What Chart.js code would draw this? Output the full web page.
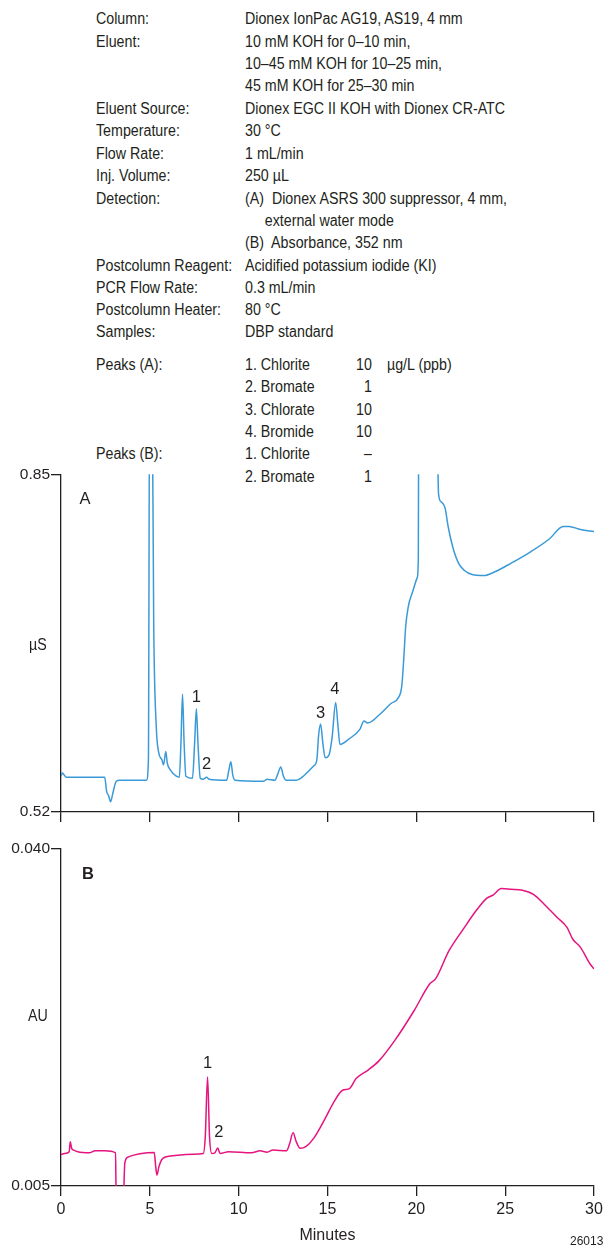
<!DOCTYPE html>
<html>
<head>
<meta charset="utf-8">
<script src="https://cdn.jsdelivr.net/npm/chart.js@4.4.0/dist/chart.umd.min.js"></script>
<style>
  body { margin: 0; background: #fff; width: 607px; height: 1245px; position: relative; overflow: hidden;
         font-family: "Liberation Sans", Arial, sans-serif; color: #231f20; }
  .t { position: absolute; font-size: 16px; line-height: 22px; white-space: nowrap;
       transform: scaleX(0.89); transform-origin: left center; }
  .r { transform-origin: right center; }
  canvas { position: absolute; left: 0; }
</style>
</head>
<body>
<div id="info"></div>
<canvas id="chartA" width="607" height="360" style="top:464px"></canvas>
<canvas id="chartB" width="607" height="407" style="top:838px"></canvas>
<div class="t" style="left:29px;top:634px">µS</div>
<div class="t" style="left:28px;top:1005px">AU</div>
<div class="t" style="left:570px;top:1230px;font-size:13.5px">26013</div>
<script>
// run conditions, one row per line: label, value, amount, unit, centre y
var infoRows = [
  ["Column:", "Dionex IonPac AG19, AS19, 4 mm", "", "", 19],
  ["Eluent:", "10 mM KOH for 0\u201310 min,", "", "", 42],
  ["", "10\u201345 mM KOH for 10\u201325 min,", "", "", 64],
  ["", "45 mM KOH for 25\u201330 min", "", "", 86],
  ["Eluent Source:", "Dionex EGC II KOH with Dionex CR-ATC", "", "", 109],
  ["Temperature:", "30 \u00b0C", "", "", 131],
  ["Flow Rate:", "1 mL/min", "", "", 154],
  ["Inj. Volume:", "250 \u00b5L", "", "", 176],
  ["Detection:", "(A)\u00a0 Dionex ASRS 300 suppressor, 4 mm,", "", "", 199],
  ["", "\u00a0\u00a0\u00a0\u00a0 external water mode", "", "", 221],
  ["", "(B)\u00a0 Absorbance, 352 nm", "", "", 243],
  ["Postcolumn Reagent:", "Acidified potassium iodide (KI)", "", "", 266],
  ["PCR Flow Rate:", "0.3 mL/min", "", "", 288],
  ["Postcolumn Heater:", "80 \u00b0C", "", "", 310],
  ["Samples:", "DBP standard", "", "", 332],
  ["Peaks (A):", "1. Chlorite", "10", "\u00b5g/L (ppb)", 365],
  ["", "2. Bromate", "1", "", 387],
  ["", "3. Chlorate", "10", "", 410],
  ["", "4. Bromide", "10", "", 432],
  ["Peaks (B):", "1. Chlorite", "\u2013", "", 454],
  ["", "2. Bromate", "1", "", 477]
];

// x axis (minutes)
var minuteTicks = [0, 5, 10, 15, 20, 25, 30];

// trace A: suppressed conductivity (µS)
var timeA = [0, 0.07, 0.3, 2.46, 2.57, 2.68, 2.79, 2.9, 3.11, 3.3, 4.81, 4.92, 4.99, 5.12, 5.22, 5.36, 5.5, 5.68, 5.77, 5.9, 5.98, 6.16, 6.49, 6.66, 6.75, 6.84, 6.93, 7.03, 7.4, 7.52, 7.62, 7.71, 7.84, 8.0, 8.19, 8.34, 9.32, 9.45, 9.56, 9.67, 9.8, 11.39, 11.6, 12.04, 12.2, 12.37, 12.52, 12.69, 13.24, 13.57, 14.22, 14.4, 14.5, 14.61, 14.74, 14.87, 15.09, 15.26, 15.46, 15.59, 15.7, 16.18, 16.83, 17.05, 17.26, 17.92, 18.57, 19.0, 19.18, 19.29, 19.4, 19.55, 19.77, 20.05, 20.11, 20.14, 21.12, 21.25, 21.4, 21.62, 21.79, 22.05, 22.38, 22.71, 23.14, 23.8, 24.45, 25.32, 26.41, 27.5, 28.26, 28.59, 29.24, 30];
var respA = [0.555, 0.558, 0.554, 0.554, 0.540, 0.536, 0.530, 0.537, 0.550, 0.551, 0.551, 0.571, 0.95, 0.95, 0.701, 0.604, 0.578, 0.571, 0.566, 0.579, 0.568, 0.561, 0.555, 0.554, 0.587, 0.635, 0.587, 0.555, 0.553, 0.587, 0.621, 0.587, 0.553, 0.552, 0.554, 0.552, 0.551, 0.561, 0.569, 0.556, 0.551, 0.550, 0.552, 0.551, 0.557, 0.564, 0.555, 0.551, 0.551, 0.554, 0.565, 0.571, 0.595, 0.606, 0.587, 0.573, 0.576, 0.593, 0.627, 0.604, 0.586, 0.591, 0.601, 0.609, 0.607, 0.615, 0.626, 0.632, 0.643, 0.669, 0.701, 0.721, 0.734, 0.749, 0.766, 0.95, 0.95, 0.831, 0.823, 0.817, 0.799, 0.779, 0.763, 0.756, 0.752, 0.751, 0.755, 0.763, 0.774, 0.787, 0.799, 0.799, 0.796, 0.794];
var yTicksA = [0.52, 0.85];
var yLabelsA = ["0.52", "0.85"];
var peakTimeA = [7.62, 8.19, 14.61, 15.41, 1.35];
var peakRespA = [0.632, 0.566, 0.616, 0.640, 0.825];
var peakTextA = ["1", "2", "3", "4", "A"];

// trace B: absorbance (AU)
var timeB = [0, 0.28, 0.46, 0.52, 0.6, 0.72, 0.94, 1.59, 1.92, 2.46, 3.07, 3.11, 3.5, 3.59, 3.77, 4.09, 4.86, 5.25, 5.33, 5.4, 5.51, 5.73, 6.16, 7.03, 7.47, 8.01, 8.12, 8.25, 8.36, 8.49, 8.66, 8.82, 8.95, 9.43, 10.73, 11.21, 11.6, 11.93, 12.69, 12.87, 13.06, 13.24, 13.46, 13.78, 14.22, 14.87, 15.31, 15.85, 16.24, 16.61, 17.27, 17.92, 18.79, 19.88, 20.75, 21.08, 21.84, 22.71, 23.36, 23.97, 24.34, 24.78, 25.32, 25.97, 26.63, 27.28, 27.93, 28.48, 28.8, 29.24, 29.78, 30];
var respB = [0.00827, 0.0084, 0.00855, 0.00958, 0.0089, 0.00872, 0.00855, 0.00844, 0.00865, 0.00865, 0.00844, 0.003, 0.003, 0.00734, 0.0080, 0.0082, 0.00844, 0.00848, 0.0070, 0.00614, 0.0070, 0.00786, 0.0081, 0.00827, 0.0083, 0.00837, 0.0101, 0.0163, 0.0101, 0.00837, 0.00844, 0.00893, 0.00837, 0.00855, 0.00844, 0.00865, 0.00851, 0.00872, 0.00865, 0.0094, 0.01051, 0.0096, 0.0089, 0.00907, 0.00993, 0.0120, 0.01354, 0.01492, 0.0151, 0.01613, 0.01699, 0.01802, 0.02009, 0.02319, 0.02594, 0.02646, 0.02939, 0.0318, 0.03352, 0.03483, 0.03518, 0.03583, 0.03576, 0.03566, 0.03518, 0.03404, 0.03283, 0.0318, 0.0306, 0.02973, 0.02801, 0.0275];
var yTicksB = [0.005, 0.040];
var yLabelsB = ["0.005", "0.040"];
var peakTimeB = [8.25, 8.88, 1.52];
var peakRespB = [0.01768, 0.01051, 0.0373];
var peakTextB = ["1", "2", "B"];

var FONT = '"Liberation Sans", Arial, sans-serif';
var INK = '#231f20';

// header text
var info = document.getElementById('info');
infoRows.forEach(function (r) {
  var top = (r[4] - 11) + 'px';
  var add = function (txt, style, cls) {
    if (!txt) return;
    var d = document.createElement('div');
    d.className = 't' + (cls || '');
    d.textContent = txt;
    d.style.cssText += style + ';top:' + top;
    info.appendChild(d);
  };
  add(r[0], 'left:96px');
  add(r[1], 'left:245px');
  add(r[2], 'right:235px', ' r');
  add(r[3], 'left:387px');
});

// peak numbers and panel letters, placed through the chart scales
var peakLabels = {
  id: 'peakLabels',
  afterDatasetsDraw: function (chart, args, opts) {
    var ctx = chart.ctx, x = chart.scales.x, y = chart.scales.y;
    ctx.save();
    ctx.fillStyle = INK;
    ctx.textAlign = 'center';
    ctx.textBaseline = 'middle';
    opts.text.forEach(function (s, i) {
      ctx.font = (opts.bold.indexOf(s) >= 0 ? 'bold ' : '') + '16.5px ' + FONT;
      ctx.fillText(s, x.getPixelForValue(opts.t[i]), y.getPixelForValue(opts.v[i]));
    });
    ctx.restore();
  }
};

function makeChart(id, times, resp, color, yMin, yMax, yTicks, yLabels, showX, xHeight, peaks) {
  var points = times.map(function (t, i) { return { x: t, y: resp[i] }; });
  return new Chart(document.getElementById(id), {
    type: 'line',
    data: {
      datasets: [{
        data: points,
        borderColor: color,
        borderWidth: 1.5,
        pointRadius: 0,
        cubicInterpolationMode: 'monotone',
        clip: 0
      }]
    },
    options: {
      responsive: false,
      animation: false,
      layout: { padding: { top: 10, right: 13, left: 0, bottom: 0 } },
      plugins: { legend: { display: false }, tooltip: { enabled: false }, peakLabels: peaks },
      scales: {
        x: {
          type: 'linear', min: 0, max: 30,
          afterBuildTicks: function (s) { s.ticks = minuteTicks.map(function (v) { return { value: v }; }); },
          afterFit: function (s) { s.height = xHeight; },
          border: { color: INK, width: 1.3 },
          grid: { drawOnChartArea: false, color: INK, lineWidth: 1.3, tickLength: 10 },
          ticks: { display: showX, color: INK, font: { family: FONT, size: 16 }, padding: 4, maxRotation: 0, autoSkip: false },
          title: { display: showX, text: 'Minutes', color: INK, font: { family: FONT, size: 16 }, padding: { top: 0, bottom: 0 } }
        },
        y: {
          min: yMin, max: yMax,
          afterBuildTicks: function (s) { s.ticks = yTicks.map(function (v) { return { value: v }; }); },
          afterFit: function (s) { s.width = 61; },
          border: { color: INK, width: 1.3 },
          grid: { drawOnChartArea: false, color: INK, lineWidth: 1.3, tickLength: 10 },
          ticks: {
            color: INK, font: { family: FONT, size: 15.5 }, padding: 1,
            callback: function (v) { return yLabels[yTicks.indexOf(v)]; }
          }
        }
      }
    },
    plugins: [peakLabels]
  });
}

makeChart('chartA', timeA, respA, '#3a9ad8', 0.52, 0.85, yTicksA, yLabelsA, false, 12,
  { t: peakTimeA, v: peakRespA, text: peakTextA, bold: [] });
makeChart('chartB', timeB, respB, '#e5147f', 0.005, 0.040, yTicksB, yLabelsB, true, 59,
  { t: peakTimeB, v: peakRespB, text: peakTextB, bold: ['B'] });
</script>
</body>
</html>
